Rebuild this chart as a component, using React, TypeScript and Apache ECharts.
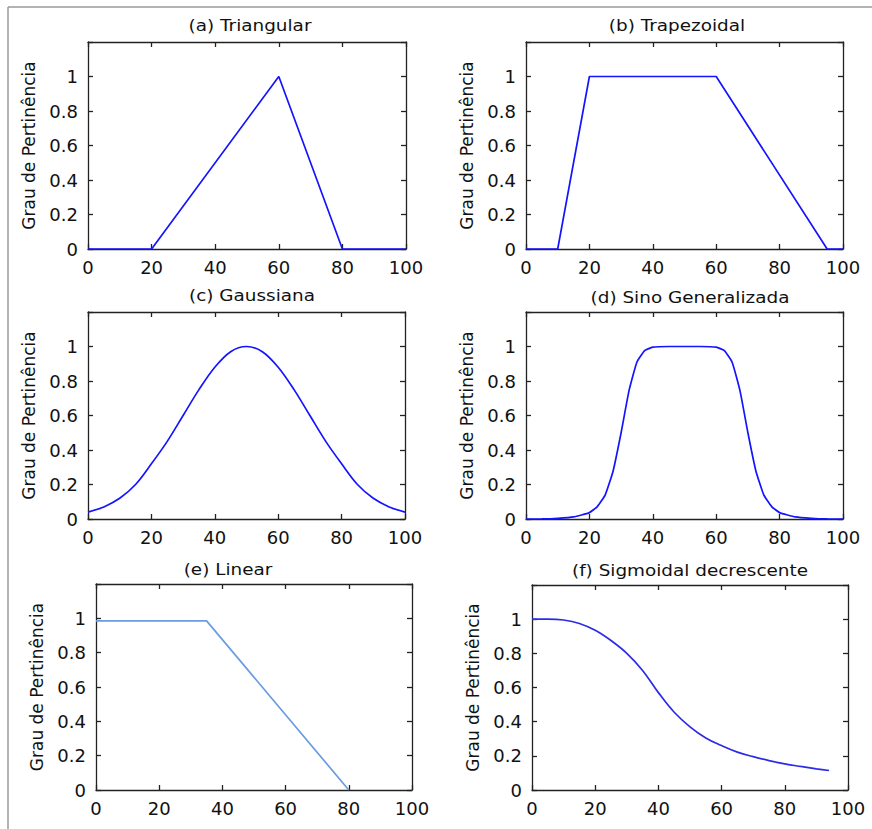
import React, { useEffect, useRef } from "react";
import * as echarts from "echarts";

// ---- data ----
const triX = [0, 20, 60, 80, 100];
const triY = [0, 0, 1, 0, 0];

const trapX = [0, 10, 20, 60, 95, 100];
const trapY = [0, 0, 1, 1, 0, 0];

const gaussX = [0, 5, 10, 15, 20, 25, 30, 35, 40, 45, 50, 55, 60, 65, 70, 75, 80, 85, 90, 95, 100];
const gaussY = [0.04, 0.07, 0.12, 0.2, 0.32, 0.45, 0.6, 0.75, 0.88, 0.97, 1.0, 0.97, 0.88, 0.75, 0.6, 0.45, 0.32, 0.2, 0.12, 0.07, 0.04];

const bellX = [0, 5, 10, 15, 20, 22.5, 25, 27.5, 30, 32.5, 35, 37.5, 40, 45, 50, 55, 60, 62.5, 65, 67.5, 70, 72.5, 75, 77.5, 80, 85, 90, 95, 100];
const bellY = [0, 0.0003, 0.004, 0.012, 0.037, 0.072, 0.14, 0.28, 0.5, 0.744, 0.91, 0.977, 0.996, 1, 1, 1, 0.996, 0.977, 0.91, 0.744, 0.5, 0.28, 0.14, 0.072, 0.037, 0.012, 0.004, 0.0003, 0];

const linX = [0, 35, 80];
const linY = [0.985, 0.985, 0];

const sigX = [0, 5, 10, 15, 20, 25, 30, 35, 40, 45, 50, 55, 60, 65, 70, 75, 80, 85, 90, 94];
const sigY = [1.0, 1.0, 0.995, 0.975, 0.935, 0.875, 0.8, 0.7, 0.57, 0.455, 0.37, 0.305, 0.26, 0.222, 0.195, 0.172, 0.153, 0.138, 0.124, 0.114];

const titles = [
  "(a) Triangular",
  "(b) Trapezoidal",
  "(c) Gaussiana",
  "(d) Sino Generalizada",
  "(e) Linear",
  "(f) Sigmoidal decrescente",
];
const yAxisName = "Grau de Pertinência";
const xMin = 0;
const xMax = 100;
const xStep = 20;
const yMin = 0;
const yMax = 1.2;
const yStep = 0.2;
const yLabelMax = 1;

const zip = (xs: number[], ys: number[]) => xs.map((x, i) => [x, ys[i]]);

const seriesData = [
  zip(triX, triY),
  zip(trapX, trapY),
  zip(gaussX, gaussY),
  zip(bellX, bellY),
  zip(linX, linY),
  zip(sigX, sigY),
];

// ---- layout / style ----
const FONT = "DejaVu Sans";
const panels = [
  { left: 88, top: 42, width: 318, height: 207, tx: 250, ty: 25, color: "#1414ff", smooth: 0 },
  { left: 526, top: 42, width: 317, height: 207, tx: 677, ty: 25, color: "#1414ff", smooth: 0 },
  { left: 88, top: 312, width: 317, height: 207, tx: 252, ty: 295, color: "#1414ff", smooth: 0.35 },
  { left: 526, top: 312, width: 317, height: 207, tx: 690, ty: 297, color: "#1414ff", smooth: 0.15 },
  { left: 96, top: 584, width: 316, height: 206, tx: 228, ty: 569, color: "#6a9ce0", smooth: 0 },
  { left: 532, top: 585, width: 316, height: 205, tx: 690, ty: 570, color: "#2b2be8", smooth: 0.4 },
];

const axisLineStyle = { color: "#222", width: 1.3 };

export default function App() {
  const ref = useRef<HTMLDivElement>(null);
  useEffect(() => {
    document.body.style.margin = "0";
    if (!ref.current) return;
    const chart = echarts.init(ref.current, undefined, { renderer: "svg" });

    const grid: any[] = [];
    const xAxis: any[] = [];
    const yAxis: any[] = [];
    const series: any[] = [];
    const graphic: any[] = [];

    panels.forEach((p, i) => {
      grid.push({ left: p.left, top: p.top, width: p.width, height: p.height, containLabel: false });
      const xBase = {
        gridIndex: i,
        type: "value",
        min: xMin,
        max: xMax,
        interval: xStep,
        splitLine: { show: false },
        axisLine: { show: true, onZero: false, lineStyle: axisLineStyle },
        axisTick: { show: true, inside: true, length: 5, lineStyle: axisLineStyle },
      };
      xAxis.push({
        ...xBase,
        position: "bottom",
        axisLabel: { show: true, margin: 9, fontSize: 18, fontFamily: FONT, color: "#111" },
      });
      xAxis.push({ ...xBase, position: "top", axisLabel: { show: false } });

      const yBase = {
        gridIndex: i,
        type: "value",
        min: yMin,
        max: yMax,
        interval: yStep,
        splitLine: { show: false },
        axisLine: { show: true, onZero: false, lineStyle: axisLineStyle },
        axisTick: { show: true, inside: true, length: 5, lineStyle: axisLineStyle },
      };
      yAxis.push({
        ...yBase,
        position: "left",
        name: yAxisName,
        nameLocation: "middle",
        nameRotate: 90,
        nameGap: 51,
        nameTextStyle: { fontSize: 17, fontFamily: FONT, color: "#111" },
        axisLabel: {
          show: true,
          margin: 10,
          fontSize: 18,
          fontFamily: FONT,
          color: "#111",
          formatter: (v: number) => (v > yLabelMax + 0.01 ? "" : String(Math.round(v * 10) / 10)),
        },
      });
      yAxis.push({ ...yBase, position: "right", axisLabel: { show: false } });

      series.push({
        type: "line",
        name: titles[i],
        xAxisIndex: i * 2,
        yAxisIndex: i * 2,
        data: seriesData[i],
        showSymbol: false,
        symbol: "none",
        smooth: p.smooth > 0 ? p.smooth : false,
        color: p.color,
        lineStyle: { color: p.color, width: 1.7 },
      });

      graphic.push({
        type: "text",
        x: p.tx,
        y: p.ty,
        scaleX: 1.15,
        style: {
          text: titles[i],
          fontSize: 16,
          fontFamily: FONT,
          fill: "#111",
          textAlign: "center",
          textVerticalAlign: "middle",
        },
      });
    });

    // outer frame lines (top and left)
    graphic.push({
      type: "line",
      shape: { x1: 8, y1: 7, x2: 872, y2: 7 },
      style: { stroke: "#9a9a9a", lineWidth: 1.5 },
    });
    graphic.push({
      type: "line",
      shape: { x1: 8, y1: 7, x2: 8, y2: 829 },
      style: { stroke: "#9a9a9a", lineWidth: 1.5 },
    });

    chart.setOption({
      animation: false,
      backgroundColor: "#ffffff",
      grid,
      xAxis,
      yAxis,
      series,
      graphic,
    });
    return () => chart.dispose();
  }, []);
  return <div ref={ref} style={{ width: 872, height: 829 }} />;
}
